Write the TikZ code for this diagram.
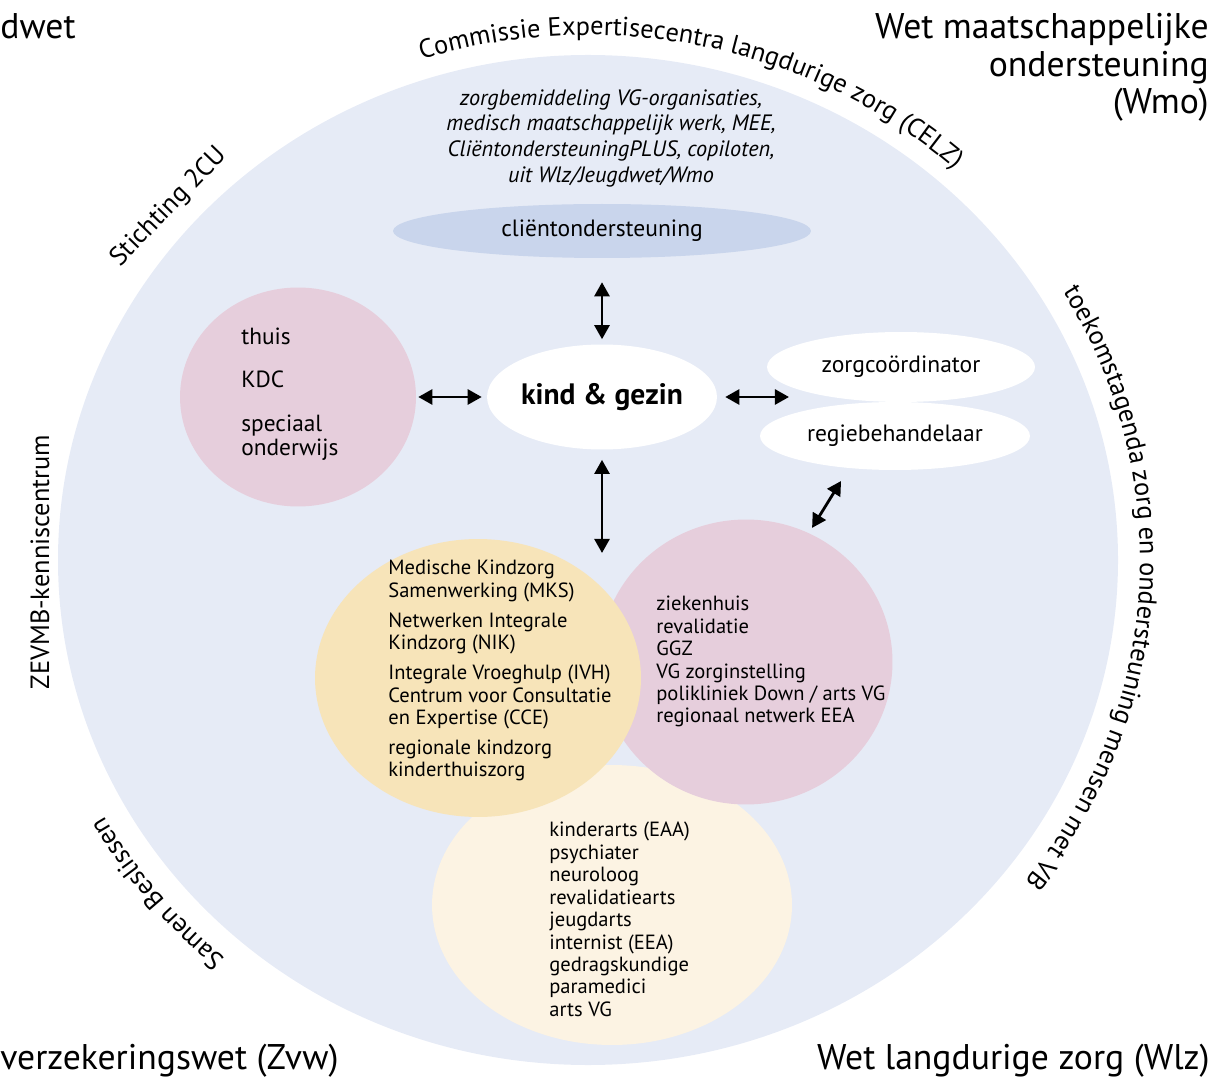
\documentclass[tikz,border=0pt]{standalone}
\usepackage{fontspec}
\setmainfont{PT Sans}
\usetikzlibrary{shapes.geometric,arrows.meta,decorations.text}
\definecolor{lavendel}{RGB}{230,235,246}
\definecolor{clientblauw}{RGB}{201,213,236}
\definecolor{roze}{RGB}{230,206,220}
\definecolor{geel}{RGB}{247,228,185}
\definecolor{lichtgeel}{RGB}{252,243,227}
\newcommand{\lijstfont}{\fontsize{11.7}{12.75}\selectfont}
\newcommand{\rolfont}{\fontsize{13.4}{13.6}\selectfont}
\newcommand{\boogfont}{\fontsize{15}{17}\selectfont}
\newcommand{\hoekfont}{\fontsize{20.3}{21.3}\selectfont}

\begin{document}
\begin{tikzpicture}[x=0.02cm,y=0.02cm,
  bol/.style={ellipse,inner sep=0pt},
  lijst/.style={align=left,inner sep=0pt,font=\lijstfont},
  rand/.style={inner sep=0pt,font=\boogfont},
  pijl/.style={{Triangle[length=8pt,width=8.5pt]}-{Triangle[length=8pt,width=8.5pt]},line width=1.6pt}]
\useasboundingbox (0,0) rectangle (1212,1079);

% grote cirkel
\fill [lavendel] (588,519) ellipse [x radius=530, y radius=505];

% wetten in de hoeken
\node (jeugdwet) [anchor=north west,inner sep=0pt,font=\hoekfont] at (0,1066) {dwet};
\node (wmo) [anchor=north east,inner sep=0pt,align=right,font=\hoekfont] at (1209,1066) {Wet maatschappelijke\\ondersteuning\\(Wmo)};
\node (zvw) [anchor=base west,inner sep=0pt,font=\hoekfont] at (0,10) {verzekeringswet (Zvw)};
\node (wlz) [anchor=base east,inner sep=0pt,font=\hoekfont] at (1210,10) {Wet langdurige zorg (Wlz)};

% teksten langs de cirkel
\path [decorate,decoration={text along path,text align=left,text={|\boogfont|Commissie Expertisecentra langdurige zorg (CELZ)}}]
  (588,519) ++(107.6:550 and 525) arc [start angle=107.6, end angle=25, x radius=550, y radius=525];
\path [decorate,decoration={text along path,text align=left,text={|\boogfont|toekomstagenda zorg en ondersteuning mensen met VB}}]
  (588,519) ++(30.6:552 and 527) arc [start angle=30.6, end angle=-80, x radius=552, y radius=527];
\path [decorate,decoration={text along path,text align=left,text={|\boogfont|Samen Beslissen}}]
  (588,519) ++(229:553 and 528) arc [start angle=229, end angle=180, x radius=553, y radius=528];
\node (stichting) [rand,rotate=46] at (169,872) {Stichting 2CU};
\node (zevmb) [rand,rotate=90] at (40,517) {ZEVMB-kenniscentrum};

% clientondersteuning
\node (aanbod) [anchor=north,inner sep=0pt,align=center,font=\fontsize{12.65}{14.7}\selectfont\itshape] at (611,990)
  {zorgbemiddeling VG-organisaties,\\medisch maatschappelijk werk, MEE,\\CliëntondersteuningPLUS, copiloten,\\uit Wlz/Jeugdwet/Wmo};
\node (client) [bol,fill=clientblauw,minimum width=8.36cm,minimum height=1.08cm,font=\rolfont] at (602,848) {cliëntondersteuning};

% kind en gezin
\node (kind) [bol,fill=white,minimum width=4.6cm,minimum height=2.1cm,font=\fontsize{16.8}{18}\selectfont\bfseries] at (602,682) {kind \& gezin};

% links: waar het kind is
\node (plek) [bol,fill=roze,minimum width=4.72cm,minimum height=4.38cm] at (298,682) {};
\node (plektekst) [anchor=west,align=left,inner sep=0pt,font=\fontsize{13.3}{13.6}\selectfont] at (241,685)
  {thuis\\[11.3pt]KDC\\[11.3pt]speciaal\\onderwijs};

% rechts: regie
\node (zorg) [bol,fill=white,minimum width=5.36cm,minimum height=1.4cm,font=\rolfont] at (901,712) {zorgcoördinator};
\node (regie) [bol,fill=white,minimum width=5.4cm,minimum height=1.36cm,font=\rolfont] at (895,643) {regiebehandelaar};

% netwerk van zorg
\node (artsen) [bol,fill=lichtgeel,minimum width=7.2cm,minimum height=5.6cm] at (612,174) {};
\node (zorginst) [bol,fill=roze,minimum width=5.86cm,minimum height=5.7cm] at (746,417) {};
\node (mks) [bol,fill=geel,minimum width=6.52cm,minimum height=5.56cm] at (478,401) {};

\node (mkstekst) [lijst,anchor=north west] at (388,519)
  {Medische Kindzorg\\Samenwerking (MKS)\\[4.3pt]Netwerken Integrale\\Kindzorg (NIK)\\[4.3pt]Integrale Vroeghulp (IVH)\\Centrum voor Consultatie\\en Expertise (CCE)\\[4.3pt]regionale kindzorg\\kinderthuiszorg};
\node (insttekst) [lijst,anchor=north west] at (656,483)
  {ziekenhuis\\revalidatie\\GGZ\\VG zorginstelling\\polikliniek Down / arts VG\\regionaal netwerk EEA};
\node (artstekst) [lijst,anchor=north west] at (549,257)
  {kinderarts (EAA)\\psychiater\\neuroloog\\revalidatiearts\\jeugdarts\\internist (EEA)\\gedragskundige\\paramedici\\arts VG};

% pijlen
\coordinate (rechts) at (789,682);
\coordinate (omlaag) at (602,526);
\draw [pijl,shorten <=2.8pt,shorten >=13.6pt] (kind.north) -- (client.south);
\draw [pijl,shorten <=2.8pt,shorten >=1.1pt] (kind.west) -- (plek.east);
\draw [pijl,shorten <=4.5pt] (kind.east) -- (rechts);
\draw [pijl,shorten <=5.7pt] (kind.south) -- (omlaag);
\draw [pijl,shorten <=3.4pt,shorten >=8.5pt] (zorginst.64) -- (regie.215);

\end{tikzpicture}
\end{document}
